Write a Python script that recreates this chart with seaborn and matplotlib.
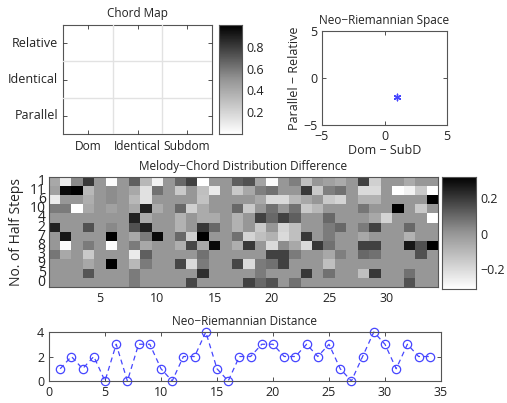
import numpy as np
import pandas as pd
import seaborn as sns
import matplotlib.pyplot as plt
from matplotlib.colors import LinearSegmentedColormap

# --- chord map (3x3, all empty) ---
chord_cols = ["Dom", "Identical", "Subdom"]
chord_rows = ["Relative", "Identical", "Parallel"]
chord_vals = [[0, 0, 0], [0, 0, 0], [0, 0, 0]]

# --- neo-riemannian space point ---
nr_x = [1]
nr_y = [-2]

# --- melody-chord distribution difference, rows top to bottom ---
half_steps = ["1", "11", "6", "10", "4", "2", "7", "8", "3", "9", "5", "0"]
row_1 = [-0.05, -0.25, 0.03, 0.2, 0, -0.3, 0, 0.12, -0.1, -0.27, 0, 0.1, 0.18, -0.32, 0, 0, 0.12,
         0.15, -0.04, -0.3, 0, 0.05, -0.12, 0, -0.03, -0.06, 0, 0.18, -0.17, 0, 0, -0.06, 0, 0]
row_11 = [-0.03, 0.3, 0.32, -0.1, 0, 0.02, 0, -0.05, -0.22, 0.08, 0, -0.15, 0, -0.12, -0.25, 0, -0.15,
          -0.05, 0.05, 0.08, 0, 0, 0.2, -0.15, 0.05, 0.08, 0, -0.2, -0.2, 0, -0.32, -0.27, -0.15, -0.32]
row_6 = [-0.25, 0, 0, -0.07, 0, 0.02, 0, -0.1, -0.22, 0, 0, 0, 0, -0.13, 0, 0, 0,
         0, -0.05, -0.2, -0.2, -0.1, -0.05, 0, -0.15, -0.18, 0, -0.08, -0.08, 0, 0, 0, 0, 0.32]
row_10 = [0.06, 0.06, -0.32, -0.05, 0, -0.03, 0, -0.05, 0.25, -0.06, 0, 0.1, -0.17, -0.06, 0, 0, 0.1,
          -0.15, 0, 0.08, 0, 0.08, -0.15, -0.1, 0, 0, 0, 0.07, 0, 0, 0.32, 0, -0.15, 0]
row_4 = [0, 0, 0, 0, 0, 0, 0, 0.25, -0.06, 0, 0, -0.08, 0, -0.06, -0.06, 0, -0.08,
         0, 0.18, 0.1, 0.18, 0.12, 0, 0, 0.1, 0, 0, 0, -0.05, -0.18, 0, 0, 0, -0.32]
row_2 = [0.25, 0, 0, 0.15, 0, 0.03, 0, 0.15, 0.25, 0, 0, -0.08, 0, 0.2, 0.1, 0, -0.08,
         0, -0.15, 0, -0.18, -0.12, 0, 0, 0.06, 0.1, 0, 0.06, 0.18, 0, 0, 0.1, 0, 0]
row_7 = [0, 0.27, 0, 0, 0, 0.32, 0, -0.05, 0.06, 0.3, 0, 0.1, -0.17, 0.32, 0, 0, 0.08,
         -0.18, -0.12, -0.08, -0.2, -0.12, 0.2, 0, 0.06, 0, 0, -0.05, 0, 0, 0, -0.08, 0, 0]
row_8 = [0, -0.3, 0, 0.06, 0, -0.3, 0, 0.06, -0.05, 0, 0, -0.07, 0.17, -0.05, 0.3, 0, -0.07,
         0.2, 0, -0.2, 0.02, -0.05, -0.2, 0.2, 0.08, 0, 0, 0.18, 0.18, 0, 0, 0.27, 0.15, 0.32]
row_3 = [0.07, -0.05, 0, -0.15, 0, 0, 0, -0.25, 0.12, 0, 0, 0, 0, 0.08, 0, 0, 0,
         0, 0, 0.18, 0.18, 0.06, 0, 0, -0.05, 0.05, 0, 0.1, 0.08, 0, 0, 0, 0.15, 0]
row_9 = [0, 0, 0, -0.05, 0, 0.32, 0, -0.1, 0.06, 0, 0, 0.17, -0.2, 0.06, 0, 0, 0.17,
         -0.2, 0.06, 0.08, 0.18, 0, 0, 0, -0.12, 0, 0, 0, 0, 0, 0, 0, 0, 0]
row_5 = [0, 0, 0, 0.14, 0, 0, 0, 0.06, 0, 0, 0, 0, 0, 0.22, 0, 0, 0,
         0, 0.06, 0, 0, 0, 0.2, 0, 0.08, 0, 0, -0.12, 0.2, 0, 0, 0.08, 0, 0]
row_0 = [0, 0, 0, 0, 0, 0, 0, 0.06, 0, 0, 0, 0, 0.17, 0, 0, 0, 0,
         0.18, 0.1, 0.15, 0, 0.08, 0, 0, 0, 0, 0, 0, 0, 0, 0, 0.15, 0, 0]

# --- neo-riemannian distance per step ---
steps = list(range(1, 35))
nr_dist = [1, 2, 1, 2, 0, 3, 0, 3, 3, 1, 0, 2, 2, 4, 1, 0, 2, 2, 3, 3, 2, 2, 3, 2, 3, 1, 0, 2, 4, 3, 1, 3, 2, 2]

sns.set_style("white")
plt.rcParams["font.family"] = ["Open Sans", "DejaVu Sans"]
plt.rcParams["font.size"] = 9
plt.rcParams["axes.linewidth"] = 0.8
plt.rcParams["axes.edgecolor"] = "#555555"
plt.rcParams["xtick.direction"] = "in"
plt.rcParams["ytick.direction"] = "in"
plt.rcParams["text.color"] = "#222222"
plt.rcParams["xtick.labelcolor"] = "#222222"
plt.rcParams["ytick.labelcolor"] = "#222222"

blue = "#4646ff"
greys = LinearSegmentedColormap.from_list("greys", ["#ffffff", "#959595", "#000000"])
W, H = 507, 403
fig = plt.figure(figsize=(W / 100, H / 100), dpi=100)


def box(l, t, r, b):
    return fig.add_axes([l / W, 1 - b / H, (r - l) / W, (b - t) / H])


def mirror(ax):
    ax.tick_params(top=True, right=True, bottom=True, left=True, length=3, width=0.6, color="#333333")
    for s in ax.spines.values():
        s.set_visible(True)
        s.set_color("#555555")


def frame_cbar(cax):
    cax.tick_params(direction="in", length=2, width=0.5, left=True, right=True)
    for s in cax.spines.values():
        s.set_visible(True)
        s.set_color("#555555")


# Chord map
ax1 = box(63, 25, 212, 134)
cax1 = box(219, 25, 242, 134)
chord = pd.DataFrame(chord_vals, index=chord_rows, columns=chord_cols)
sns.heatmap(chord, ax=ax1, cbar_ax=cax1, cmap=greys, vmin=0, vmax=1,
            cbar_kws={"ticks": [0.2, 0.4, 0.6, 0.8]})
ax1.set_xticks([1, 2], minor=True)
ax1.set_yticks([1, 2], minor=True)
ax1.grid(which="minor", color="#e2e2e2", linewidth=1)
ax1.set_axisbelow(False)
ax1.set_xticklabels(chord_cols, rotation=0, fontsize=8.6)
ax1.set_yticklabels(chord_rows, rotation=0)
ax1.tick_params(which="minor", length=0)
mirror(ax1)
ax1.tick_params(axis="x", pad=4)
ax1.set_title("Chord Map", fontsize=8.5, pad=6)
frame_cbar(cax1)

# Neo-Riemannian space
ax2 = box(322, 31, 447, 125)
sns.scatterplot(x=nr_x, y=nr_y, ax=ax2, marker=(6, 2, 0), s=22, color=blue, linewidth=1)
ax2.set_xlim(-5, 5)
ax2.set_ylim(-5, 5)
ax2.set_xticks([-5, 0, 5])
ax2.set_yticks([-5, 0, 5])
ax2.set_xticklabels(["\u22125", "0", "5"])
ax2.set_yticklabels(["\u22125", "0", "5"])
mirror(ax2)
ax2.set_title("Neo\u2212Riemannian Space", fontsize=8.5, pad=5)
ax2.set_xlabel("Dom \u2212 SubD", labelpad=1)
ax2.set_ylabel("Parallel \u2212 Relative", labelpad=1)

# Melody-chord distribution difference
ax3 = box(48.5, 176.5, 438, 287)
cax3 = box(442, 176.5, 476, 289)
diff = pd.DataFrame([row_1, row_11, row_6, row_10, row_4, row_2, row_7, row_8, row_3, row_9, row_5, row_0],
                    index=half_steps, columns=steps)
sns.heatmap(diff, ax=ax3, cbar_ax=cax3, cmap=greys, vmin=-0.31, vmax=0.32,
            xticklabels=False, cbar_kws={"ticks": [-0.2, 0, 0.2]})
ax3.set_xticks(np.arange(5, 35, 5) - 0.5)
ax3.set_xticklabels([str(v) for v in range(5, 35, 5)], rotation=0)
ax3.set_yticks(np.arange(len(half_steps)) + 0.5)
ax3.set_yticklabels(half_steps, rotation=0, fontsize=10, va="center")
mirror(ax3)
ax3.tick_params(axis="y", pad=2)
ax3.set_title("Melody\u2212Chord Distribution Difference", fontsize=8.5, pad=5)
ax3.set_ylabel("No. of Half Steps", fontsize=10, labelpad=4)
cax3.set_yticklabels(["\u22120.2", "0", "0.2"])
frame_cbar(cax3)

# Neo-Riemannian distance
ax4 = box(49, 332, 441, 381)
sns.lineplot(x=steps, y=nr_dist, ax=ax4, color=blue, linewidth=0.9, dashes=False,
             linestyle=(0, (4, 3)), marker="o", markersize=6, markerfacecolor="none",
             markeredgecolor=blue, markeredgewidth=0.9)
ax4.set_xlim(0, 35)
ax4.set_ylim(0, 4)
ax4.set_xticks(range(0, 40, 5))
ax4.set_yticks([0, 2, 4])
mirror(ax4)
ax4.set_title("Neo\u2212Riemannian Distance", fontsize=8.5, pad=5)
for m in ax4.lines:
    m.set_clip_on(False)

fig.savefig("out.png", dpi=100)
